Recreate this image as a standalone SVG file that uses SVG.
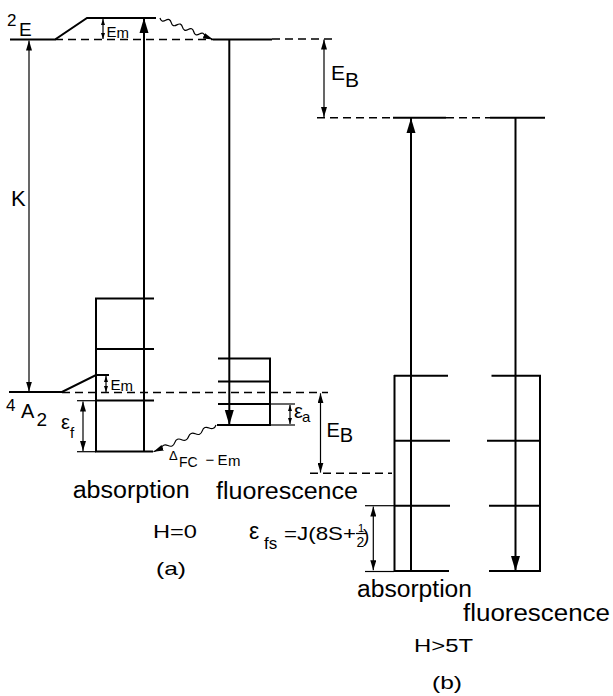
<svg xmlns="http://www.w3.org/2000/svg" width="613" height="696" viewBox="0 0 613 696">
<style>
.lvl{stroke:#000;stroke-width:2;fill:none}
.dash{stroke:#000;stroke-width:1.5;stroke-dasharray:8 5;fill:none}
.tr{stroke:#000;stroke-width:2;fill:none}
.dim{stroke:#000;stroke-width:1.2;fill:none}
.tick{stroke:#000;stroke-width:1.2}
.wavy{stroke:#000;stroke-width:1.2;fill:none}
text{font-family:"Liberation Sans",Arial,sans-serif;fill:#000}
</style>
<defs>
<marker id="big" viewBox="0 0 15 10" refX="15" refY="5" markerWidth="15" markerHeight="10" orient="auto-start-reverse" markerUnits="userSpaceOnUse"><path d="M0,0.5 L15,5 L0,9.5 Z" fill="#000"/></marker>
<marker id="sm" viewBox="0 0 10 6" refX="10" refY="3" markerWidth="10" markerHeight="6" orient="auto-start-reverse" markerUnits="userSpaceOnUse"><path d="M0,0 L10,3 L0,6 Z" fill="#000"/></marker>
<marker id="tiny" viewBox="0 0 6 4" refX="6" refY="2" markerWidth="6" markerHeight="4" orient="auto-start-reverse" markerUnits="userSpaceOnUse"><path d="M0,0 L6,2 L0,4 Z" fill="#000"/></marker>
</defs>
<rect width="613" height="696" fill="#fff"/>

<g id="level-2E">
<polyline class="lvl" points="10,39.5 55,39.5 87,18 156,18"/>
<line class="dash" x1="55" y1="39.5" x2="213" y2="39.5"/>
<line class="lvl" x1="213" y1="39.5" x2="272" y2="39.5"/>
<line class="dash" x1="272" y1="39" x2="334" y2="39"/>
<text x="7" y="26" font-size="17">2</text>
<text x="19" y="35.5" font-size="19">E</text>
</g>

<g id="level-4A2">
<polyline class="lvl" points="9,392 62,392 96,375 109,375"/>
<line class="dash" x1="62" y1="392.5" x2="328" y2="392.5"/>
<text x="6" y="410.5" font-size="17">4</text>
<text x="21" y="417.5" font-size="20">A</text>
<text x="36.5" y="425.5" font-size="19">2</text>
</g>

<g id="box-absorption-a">
<line class="lvl" x1="96" y1="298" x2="96" y2="452"/>
<line class="lvl" x1="95" y1="298.5" x2="154" y2="298.5"/>
<line class="lvl" x1="95" y1="349" x2="154" y2="349"/>
<line class="lvl" x1="95" y1="400.5" x2="154" y2="400.5"/>
<line class="lvl" x1="95" y1="451.5" x2="153" y2="451.5"/>
</g>

<g id="box-fluorescence-a">
<line class="lvl" x1="218" y1="358.5" x2="271" y2="358.5"/>
<line class="lvl" x1="218" y1="381.5" x2="270" y2="381.5"/>
<line class="lvl" x1="218" y1="404" x2="270" y2="404"/>
<line class="lvl" x1="217" y1="425" x2="271" y2="425"/>
<line class="lvl" x1="270" y1="358" x2="270" y2="425"/>
</g>

<g id="level-b-top">
<line class="dash" x1="317" y1="117.7" x2="393" y2="117.7"/>
<line class="lvl" x1="393" y1="117.7" x2="446" y2="117.7"/>
<line class="dash" x1="446" y1="117.7" x2="490" y2="117.7"/>
<line class="lvl" x1="490" y1="117.7" x2="545" y2="117.7"/>
<line class="dash" x1="310" y1="473.3" x2="392" y2="473.3"/>
</g>

<g id="box-absorption-b">
<line class="lvl" x1="394.5" y1="375" x2="394.5" y2="572"/>
<line class="lvl" x1="394" y1="375.7" x2="448" y2="375.7"/>
<line class="lvl" x1="394" y1="440.7" x2="450" y2="440.7"/>
<line class="lvl" x1="394" y1="505.7" x2="450" y2="505.7"/>
<line class="lvl" x1="394" y1="571" x2="449" y2="571"/>
</g>

<g id="box-fluorescence-b">
<line class="lvl" x1="540" y1="375" x2="540" y2="572"/>
<line class="lvl" x1="491.5" y1="375.7" x2="541" y2="375.7"/>
<line class="lvl" x1="487" y1="440.7" x2="541" y2="440.7"/>
<line class="lvl" x1="489" y1="505.7" x2="541" y2="505.7"/>
<line class="lvl" x1="489" y1="571" x2="541" y2="571"/>
</g>

<g id="connectors">
<line class="tr" x1="144" y1="452" x2="144" y2="18" marker-end="url(#big)"/>
<line class="tr" x1="229.3" y1="39.5" x2="229.3" y2="425" marker-end="url(#big)"/>
<line class="tr" x1="411" y1="571" x2="411" y2="118" marker-end="url(#big)"/>
<line class="tr" x1="515.5" y1="118" x2="515.5" y2="571" marker-end="url(#big)"/>
<line class="dim" x1="29" y1="40.5" x2="29" y2="391.5" marker-start="url(#sm)" marker-end="url(#sm)"/>
<line class="dim" x1="103" y1="19" x2="103" y2="39" marker-start="url(#tiny)" marker-end="url(#tiny)"/>
<line class="dim" x1="106" y1="376" x2="106" y2="392" marker-start="url(#tiny)" marker-end="url(#tiny)"/>
<line class="dim" x1="83" y1="401.5" x2="83" y2="451" marker-start="url(#sm)" marker-end="url(#sm)"/>
<line class="tick" x1="77" y1="400.7" x2="96" y2="400.7"/>
<line class="tick" x1="77" y1="451.7" x2="96" y2="451.7"/>
<line class="dim" x1="290" y1="405" x2="290" y2="424" marker-start="url(#tiny)" marker-end="url(#tiny)"/>
<line class="tick" x1="270" y1="404" x2="295" y2="404"/>
<line class="tick" x1="270" y1="425" x2="295" y2="425"/>
<line class="dim" x1="324" y1="39.5" x2="324" y2="117" marker-start="url(#sm)" marker-end="url(#sm)"/>
<line class="dim" x1="320.5" y1="393.3" x2="320.5" y2="472.6" marker-start="url(#sm)" marker-end="url(#sm)"/>
<line class="dim" x1="373.3" y1="506.5" x2="373.3" y2="570.3" marker-start="url(#sm)" marker-end="url(#sm)"/>
<line class="tick" x1="365" y1="505.7" x2="394" y2="505.7"/>
<line class="tick" x1="365" y1="571.5" x2="394" y2="571.5"/>
<path class="wavy" d="M160,18 Q161.3,22.84 165.63,20.29 T171.25,22.58 T176.88,24.86 T182.5,27.15 T188.13,29.44 T193.75,31.73 T199.38,34.01 T205,36.3 L213,39.5" marker-end="url(#sm)"/>
<path class="wavy" d="M216,425 Q214.13,430.15 209.13,427.94 T202.25,430.88 T195.38,433.81 T188.5,436.75 T181.63,439.69 T174.75,442.63 T167.88,445.56 T161,448.5 L153.5,451.7" marker-end="url(#sm)"/>
</g>

<g id="labels">
<text x="106.5" y="37" font-size="15">E<tspan font-size="15" dy="1">m</tspan></text>
<text x="110.5" y="390" font-size="15">E<tspan font-size="15" dy="1">m</tspan></text>
<text x="331" y="80" font-size="21">E<tspan dy="7">B</tspan></text>
<text x="326.5" y="436.5" font-size="20">E<tspan dy="5">B</tspan></text>
<text x="11" y="206" font-size="22">K</text>
<text x="61" y="428.5" font-size="20">ε</text>
<text x="70" y="437.5" font-size="15">f</text>
<text x="294" y="417.5" font-size="20">ε</text>
<text x="302" y="421.5" font-size="15">a</text>
<text x="169" y="459.5" font-size="13">Δ</text>
<text x="179" y="467" font-size="14">FC</text>
<text x="205.5" y="465" font-size="15">−</text>
<text x="217.5" y="465" font-size="15">E</text>
<text x="228" y="466" font-size="15">m</text>
<text x="72.7" y="498" font-size="23" textLength="117" lengthAdjust="spacingAndGlyphs">absorption</text>
<text x="216" y="499" font-size="23" textLength="142" lengthAdjust="spacingAndGlyphs">fluorescence</text>
<text x="153" y="538" font-size="18" textLength="44" lengthAdjust="spacingAndGlyphs">H=0</text>
<text x="156" y="575" font-size="19" textLength="30" lengthAdjust="spacingAndGlyphs">(a)</text>
<text x="249" y="539" font-size="23">ε</text>
<text x="264" y="549" font-size="17">fs</text>
<text x="284" y="540" font-size="19" textLength="72" lengthAdjust="spacingAndGlyphs">=J(8S+</text>
<text x="358" y="532" font-size="11">1</text>
<line class="tick" x1="356" y1="533.5" x2="366" y2="533.5"/>
<text x="356.5" y="547" font-size="14">2</text>
<text x="363" y="542" font-size="19">)</text>
<text x="357" y="597" font-size="23" textLength="115" lengthAdjust="spacingAndGlyphs">absorption</text>
<text x="463" y="621" font-size="23" textLength="147" lengthAdjust="spacingAndGlyphs">fluorescence</text>
<text x="414" y="651.7" font-size="18" textLength="59" lengthAdjust="spacingAndGlyphs">H&gt;5T</text>
<text x="432" y="689" font-size="19" textLength="30" lengthAdjust="spacingAndGlyphs">(b)</text>
</g>
</svg>
